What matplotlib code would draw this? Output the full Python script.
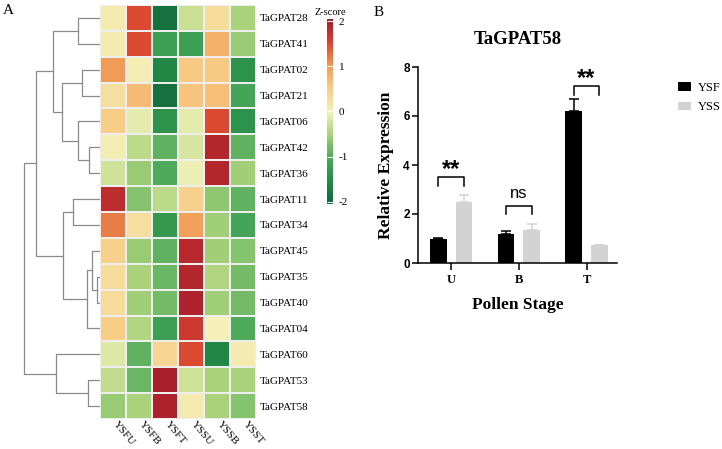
import numpy as np
import matplotlib.pyplot as plt
from matplotlib.colors import LinearSegmentedColormap

plt.rcParams['axes.unicode_minus'] = False

# ---- panel A data ----
genes = ['TaGPAT28', 'TaGPAT41', 'TaGPAT02', 'TaGPAT21', 'TaGPAT06', 'TaGPAT42',
         'TaGPAT36', 'TaGPAT11', 'TaGPAT34', 'TaGPAT45', 'TaGPAT35', 'TaGPAT40',
         'TaGPAT04', 'TaGPAT60', 'TaGPAT53', 'TaGPAT58']
samples = ['YSFU', 'YSFB', 'YSFT', 'YSSU', 'YSSB', 'YSST']
zscore = np.array([
    [0.10, 1.50, -1.90, -0.30, 0.30, -0.50],
    [0.10, 1.50, -1.20, -1.20, 0.80, -0.60],
    [1.00, 0.05, -1.60, 0.55, 0.55, -1.40],
    [0.25, 0.70, -1.90, 0.60, 0.65, -1.10],
    [0.50, -0.10, -1.40, -0.10, 1.50, -1.40],
    [0.05, -0.40, -0.90, -0.20, 1.90, -0.90],
    [-0.25, -0.60, -1.00, -0.05, 1.90, -0.55],
    [1.80, -0.70, -0.40, 0.45, -0.65, -0.90],
    [1.20, 0.25, -1.30, 0.95, -0.55, -1.10],
    [0.45, -0.60, -0.90, 1.85, -0.55, -0.70],
    [0.30, -0.50, -0.85, 1.90, -0.45, -0.80],
    [0.30, -0.55, -0.80, 1.95, -0.55, -0.80],
    [0.50, -0.45, -1.20, 1.65, 0.00, -1.00],
    [-0.15, -0.90, 0.40, 1.50, -1.60, 0.10],
    [-0.35, -0.85, 2.00, -0.25, -0.50, -0.50],
    [-0.60, -0.50, 1.95, 0.10, -0.50, -0.70],
])
# row dendrogram: (left, right, merge height), leaves are row indices
tree = ((((0, 1, 22), ((2, 3, 18), (4, (5, 6, 11), 22), 38), 47),
         ((7, 8, 27), ((9, (10, 11, 3.3), 7.7), 12, 13.3), 37), 64),
        (13, (14, 15, 12.3), 44.3), 75.7)

# ---- panel B data ----
stages = ['U', 'B', 'T']
ysf = [1.00, 1.20, 6.22]
ysf_err = [0.02, 0.09, 0.48]
yss = [2.48, 1.36, 0.72]
yss_err = [0.30, 0.22, 0.02]
signif = ['**', 'ns', '**']

serif = 'Liberation Serif'
sans = 'Liberation Sans'
W, H = 722, 449
fig = plt.figure(figsize=(W / 100, H / 100), dpi=100)


def box(x0, y0, x1, y1):
    # pixel box (top-left origin) -> figure fraction
    return [x0 / W, 1 - y1 / H, (x1 - x0) / W, (y1 - y0) / H]


cmap = LinearSegmentedColormap.from_list('zs', [
    '#10663a', '#238c47', '#4aa85a', '#a9d27a', '#f4f1b9',
    '#f7cd86', '#f19a54', '#d9432f', '#a31a2b'])

# heatmap
axh = fig.add_axes(box(100, 5, 256, 419))
mesh = axh.pcolormesh(zscore, cmap=cmap, vmin=-2.05, vmax=2.05,
                      edgecolors='#eeeeee', linewidth=0.3)
axh.set_xlim(0, len(samples))
axh.set_ylim(len(genes), 0)
axh.yaxis.tick_right()
axh.set_yticks(np.arange(len(genes)) + 0.5)
axh.set_yticklabels(genes, fontfamily=serif, fontsize=8)
axh.set_xticks([])
axh.tick_params(length=0, pad=3)
for i, s in enumerate(samples):
    axh.text(i + 0.58, len(genes) + 0.12, s, fontfamily=serif, fontsize=8,
             rotation=-50, rotation_mode='anchor', ha='left', va='center',
             clip_on=False)
for s in axh.spines.values():
    s.set_visible(False)

# dendrogram
axd = fig.add_axes(box(22, 5, 100, 419))
axd.set_xlim(78, 0)
axd.set_ylim(len(genes), 0)
axd.axis('off')


def draw(node):
    if isinstance(node, int):
        return node + 0.5, 0
    left, right, h = node
    ly, lh = draw(left)
    ry, rh = draw(right)
    axd.plot([lh, h, h, rh], [ly, ly, ry, ry], color='#8a8a8a', lw=0.9)
    return (ly + ry) / 2, h


draw(tree)

# colorbar
axc = fig.add_axes(box(327, 19, 333, 204))
cb = fig.colorbar(mesh, cax=axc, ticks=[-2, -1, 0, 1, 2])
cb.outline.set_visible(False)
axc.tick_params(direction='in', color='white', length=2, width=0.8,
                left=True, right=True, pad=4)
for t in axc.get_yticklabels():
    t.set_fontfamily(serif)
    t.set_fontsize(8)
axc.set_title('Z-score', fontfamily=serif, fontsize=7.5, pad=3)

fig.text(3 / W, 1 - 14 / H, 'A', fontfamily=serif, fontsize=11)
fig.text(374 / W, 1 - 16 / H, 'B', fontfamily=serif, fontsize=11)

# bar chart
axb = fig.add_axes(box(418, 67, 617, 263))
x = np.arange(len(stages))
bw = 0.25
off = 0.19
axb.bar(x - off, ysf, bw, color='black', label='YSF')
axb.bar(x + off, yss, bw, color='#d3d3d3', label='YSS')
axb.errorbar(x - off, ysf, yerr=[np.zeros(3), ysf_err], fmt='none',
             ecolor='black', elinewidth=1.1, capsize=3.5, capthick=1.1)
axb.errorbar(x + off, yss, yerr=[np.zeros(3), yss_err], fmt='none',
             ecolor='#d3d3d3', elinewidth=1.1, capsize=3.5, capthick=1.1)

# significance brackets
tops = [3.5, 2.34, 7.22]
for i, lab in enumerate(signif):
    t = tops[i]
    axb.plot([i - off, i - off, i + off, i + off], [t - 0.36, t, t, t - 0.36],
             color='black', lw=1.1)
    if lab == 'ns':
        axb.text(i, t + 0.33, lab, ha='center', va='baseline',
                 fontfamily=sans, fontsize=12)
    else:
        axb.text(i, t + 0.03, lab, ha='center', va='baseline',
                 fontfamily=sans, fontsize=17, fontweight='bold')

axb.set_xlim(-0.49, 2.45)
axb.set_ylim(0, 8)
axb.set_yticks([0, 2, 4, 6, 8])
axb.set_xticks(x)
axb.set_xticklabels(stages, fontfamily=serif, fontweight='bold', fontsize=9)
for t in axb.get_yticklabels():
    t.set_fontfamily(sans)
    t.set_fontweight('bold')
    t.set_fontsize(8.5)
axb.tick_params(axis='y', length=4, width=1.1, pad=2)
axb.tick_params(axis='x', length=5, width=1.1, pad=3)
for s in ['top', 'right']:
    axb.spines[s].set_visible(False)
for s in ['left', 'bottom']:
    axb.spines[s].set_linewidth(1.1)
axb.set_title('TaGPAT58', fontfamily=serif, fontweight='bold', fontsize=13.5,
              pad=16.5)
axb.set_ylabel('Relative Expression', fontfamily=serif, fontweight='bold',
               fontsize=12.5)
axb.yaxis.set_label_coords(-0.12, 0.5)
axb.set_xlabel('Pollen Stage', fontfamily=serif, fontweight='bold',
               fontsize=12.5)
axb.xaxis.set_label_coords(0.5, -0.175)
axb.legend(loc='upper left', bbox_to_anchor=(678 / W, 1 - 82 / H),
           bbox_transform=fig.transFigure, frameon=False, borderpad=0,
           borderaxespad=0, handlelength=1.05, handleheight=0.65,
           handletextpad=0.55, labelspacing=0.6,
           prop={'family': serif, 'size': 9})

fig.savefig('out.png', dpi=100)
